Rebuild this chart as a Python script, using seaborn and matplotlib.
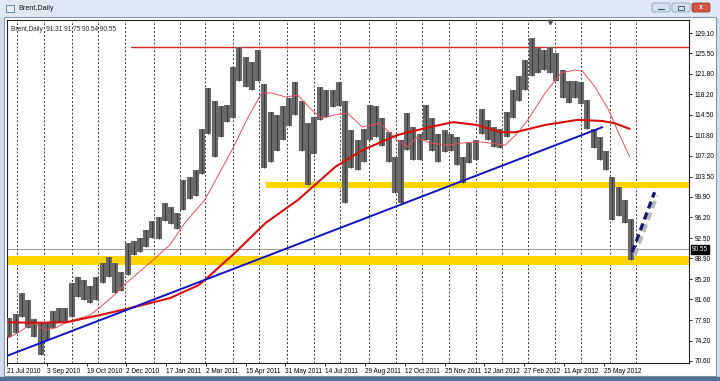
import matplotlib.pyplot as plt
import matplotlib.patches as mpatches
import numpy as np
import pandas as pd
import seaborn as sns

# weekly high / low of Brent daily bars (5 trading days per entry, from 21 Jul 2010)
week_high = [78.2, 79.0, 82.7, 81.5, 78.0, 77.5, 77.4, 79.5, 80.0, 80.0,
             84.5, 85.6, 85.0, 84.0, 85.5, 88.0, 89.2, 88.0, 86.5, 91.6,
             92.0, 92.5, 94.0, 95.5, 96.3, 98.8, 98.0, 97.0, 102.9, 103.5,
             104.7, 112.0, 119.3, 117.0, 116.0, 116.3, 123.0, 126.6, 124.8, 124.0,
             126.1, 120.0, 115.0, 114.5, 116.0, 117.5, 120.4, 117.0, 113.0, 114.1,
             119.5, 119.0, 119.0, 120.4, 117.0, 111.8, 110.0, 112.0, 116.3, 116.0,
             114.0, 111.5, 107.0, 110.0, 114.8, 112.3, 111.0, 116.3, 114.0, 111.0,
             111.8, 111.0, 110.5, 107.0, 109.5, 110.0, 115.5, 113.5, 112.3, 112.0,
             115.0, 119.0, 121.5, 124.3, 128.2, 126.4, 126.0, 126.6, 125.5, 122.5,
             120.5, 120.5, 120.3, 117.1, 112.0, 110.5, 108.0, 103.4, 101.6, 99.3,
             96.0]
week_low = [74.8, 75.5, 78.5, 76.5, 74.8, 71.7, 74.3, 76.5, 77.5, 77.3,
            78.5, 82.0, 81.5, 80.9, 81.5, 84.5, 85.5, 82.8, 83.0, 86.0,
            89.5, 90.0, 91.0, 92.5, 92.3, 95.5, 95.0, 94.2, 97.5, 99.5,
            100.0, 104.0, 111.0, 107.0, 110.5, 113.3, 114.0, 120.5, 119.5, 119.0,
            120.5, 105.0, 106.0, 108.0, 110.0, 112.5, 114.5, 108.0, 102.0, 107.5,
            113.5, 114.1, 115.9, 116.0, 98.8, 105.0, 104.7, 106.0, 110.0, 110.5,
            109.0, 106.0, 100.5, 98.8, 108.2, 106.4, 106.4, 110.0, 108.0, 106.0,
            107.8, 108.0, 105.5, 102.3, 105.9, 106.5, 111.0, 110.0, 108.8, 108.5,
            110.5, 114.0, 117.0, 119.0, 121.5, 122.0, 122.5, 122.0, 120.5, 117.5,
            116.6, 117.5, 116.5, 112.0, 108.5, 106.5, 104.7, 95.7, 96.5, 95.2,
            88.6]

# slow moving average (bar index, price)
slow_bar = [1, 21, 48, 75, 97, 131, 154, 159, 183, 208, 234, 264, 286, 314,
            340, 359, 378, 397, 409, 433, 459, 479, 489, 501]
slow_price = [77.5, 77.4, 77.5, 78.8, 79.9, 81.8, 84.1, 85.0, 89.8, 95.2, 99.3,
              105.2, 108.2, 110.9, 112.3, 113.2, 112.7, 111.4, 111.4, 112.7,
              113.6, 113.4, 113.0, 112.0]

# fast moving average (bar index, price)
fast_bar = [1, 10, 21, 31, 39, 48, 67, 75, 88, 96, 115, 131, 143, 159, 181,
            194, 205, 213, 224, 234, 245, 253, 264, 274, 286, 300, 314, 322,
            330, 340, 354, 367, 380, 401, 411, 419, 433, 446, 457, 463, 473,
            484, 492, 501]
fast_price = [74.7, 75.8, 77.4, 76.1, 76.5, 77.5, 78.8, 80.2, 82.7, 84.5, 88.1,
              91.3, 95.2, 99.3, 108.2, 114.1, 118.4, 118.4, 117.7, 118.0, 115.4,
              113.9, 114.5, 114.8, 112.3, 113.0, 110.0, 108.8, 110.5, 109.5,
              109.1, 109.5, 109.7, 109.1, 111.3, 113.6, 118.4, 122.0, 122.5,
              122.3, 119.5, 115.4, 111.3, 107.0]

trend_bar = [0, 479]
trend_price = [71.5, 112.3]
resistance = 126.6
resistance_from = 100
upper_zone = (101.4, 102.5)
upper_zone_from = 208
lower_zone = (87.7, 89.3)
forecast_bar = [503, 521]
forecast_price = [90.0, 100.7]
last_ohlc = [91.31, 91.75, 90.54, 90.55]
y_ticks = [129.10, 125.50, 121.80, 118.20, 114.50, 110.80, 107.20, 103.50,
           99.90, 96.20, 92.50, 88.90, 85.20, 81.60, 77.90, 74.20, 70.60]
no_trading = ["2011-12-26", "2012-01-02"]

sns.set_theme(style="white")
plt.rcParams["font.family"] = ["Liberation Sans", "DejaVu Sans"]
FS = 4.7

fig = plt.figure(figsize=(7.2, 3.81), dpi=100)
fig.patch.set_facecolor("#cfdcec")

# window chrome, drawn in pixel space
bg = fig.add_axes([0, 0, 1, 1], zorder=0)
bg.set_xlim(0, 720)
bg.set_ylim(381, 0)
bg.axis("off")
bg.add_patch(mpatches.Rectangle((0, 0), 720, 17, color="#dfe8f4"))
bg.add_patch(mpatches.Rectangle((4, 17), 712, 359, facecolor="white",
                                edgecolor="#8796ab", lw=0.8))
bg.add_patch(mpatches.Rectangle((0, 377), 720, 4, color="#4f6f98"))
bg.add_patch(mpatches.Rectangle((6, 5), 8, 7, facecolor="#e8eef6",
                                edgecolor="#5577aa", lw=0.6))
bg.text(18, 9, "Brent,Daily", fontsize=5.2, va="center", color="#1b1b1b")
for x0, col, ec in [(652, "#d3e1f1", "#8fa5c2"), (672, "#d3e1f1", "#8fa5c2"),
                    (692, "#d2533f", "#9b3a2c")]:
    bg.add_patch(mpatches.FancyBboxPatch((x0, 3), 18, 9,
                                         boxstyle="round,pad=0,rounding_size=2",
                                         facecolor=col, edgecolor=ec, lw=0.6))
bg.plot([658, 664], [9, 9], color="#34495e", lw=0.8)
bg.add_patch(mpatches.Rectangle((678, 5.5), 6, 4.5, fill=False,
                                edgecolor="#34495e", lw=0.6))
bg.text(701, 7.8, "x", fontsize=5, color="white", ha="center", va="center",
        fontweight="bold")

ax = fig.add_axes([7 / 720, 18 / 381, 682 / 720, 343 / 381], zorder=1)
ax.set_facecolor("white")

n_weeks = len(week_high)
n_bars = n_weeks * 5
dates = pd.bdate_range("2010-07-21", periods=560, freq="C",
                       holidays=no_trading)

# month grid
months = dates.month
month_starts = [i for i in range(1, n_bars + 5) if months[i] != months[i - 1]]
for i in month_starts:
    ax.axvline(i, color="#3a3a3a", lw=0.7, ls=(0, (2, 2)), zorder=1)

# price zones and levels
ax.axhspan(*lower_zone, color="#ffd500", lw=0, zorder=2)
ax.fill_between([upper_zone_from, 560], upper_zone[0], upper_zone[1],
                color="#ffd500", lw=0, zorder=2)
ax.plot([resistance_from, 560], [resistance, resistance], color="#d42a2a",
        lw=1.0, zorder=3)
ax.axhline(last_ohlc[3], color="#8c8c8c", lw=0.6, zorder=2)

# price bars
centers = np.arange(n_weeks) * 5 + 2
ax.vlines(centers, week_low, week_high, color="#6a6a6a", lw=4.4, zorder=3)
ax.vlines(centers, week_low, week_high, color="#3c3c3c", lw=0.8, zorder=3)

sns.lineplot(x=fast_bar, y=fast_price, ax=ax, color="#e8505a", lw=0.7,
             zorder=4)
sns.lineplot(x=slow_bar, y=slow_price, ax=ax, color="#d80f0f", lw=1.5,
             zorder=4)
sns.lineplot(x=trend_bar, y=trend_price, ax=ax, color="#1212c4", lw=1.4,
             zorder=5)

# projected move
ax.plot([b + 2 for b in forecast_bar], [p - 0.6 for p in forecast_price],
        color="#b8b8b8", lw=2.6, ls=(0, (2.2, 1.3)), zorder=5)
ax.plot(forecast_bar, forecast_price, color="#17196e", lw=2.4,
        ls=(0, (2.2, 1.3)), zorder=6)

ax.set_xlim(0, 548.7)
ax.set_ylim(70.23, 131.42)

label_idx = list(range(0, 481, 32))
ax.set_xticks(label_idx)
ax.set_xticklabels([f"{dates[i].day} {dates[i]:%b %Y}" for i in label_idx],
                   fontsize=FS, ha="left")
ax.yaxis.tick_right()
ax.set_yticks(y_ticks)
ax.set_yticklabels([f"{v:.2f}" for v in y_ticks], fontsize=FS)
ax.tick_params(axis="x", direction="out", length=2.5, width=0.6, pad=1,
               bottom=True, colors="black")
ax.tick_params(axis="y", direction="out", length=2.5, width=0.6, pad=1.5,
               right=True, colors="black")
for s in ax.spines.values():
    s.set_color("#202020")
    s.set_linewidth(0.8)

ax.text(0.006, 0.982, "Brent,Daily  " + " ".join(f"{v:.2f}" for v in last_ohlc),
        transform=ax.transAxes, fontsize=FS, va="top", ha="left", zorder=7)
ax.plot([0.7965], [0.995], marker="v", ms=3, color="#555555",
        transform=ax.transAxes, clip_on=False, zorder=7)

ax.annotate(f"{last_ohlc[3]:.2f}", xy=(1.0, last_ohlc[3]),
            xycoords=("axes fraction", "data"), xytext=(2, 0),
            textcoords="offset points", fontsize=FS, color="white",
            va="center", ha="left", annotation_clip=False, zorder=8,
            bbox=dict(boxstyle="square,pad=0.15", fc="black", ec="black"))

fig.savefig("out.png", dpi=100, facecolor=fig.get_facecolor())
